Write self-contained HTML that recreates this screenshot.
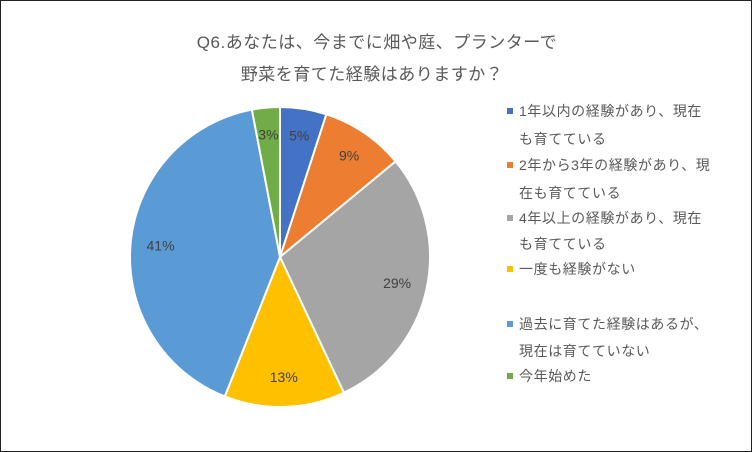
<!DOCTYPE html>
<html><head><meta charset="utf-8"><style>
body{margin:0;background:#fff}
#c{position:relative;width:752px;height:452px;box-sizing:border-box;border:1.5px solid #222;background:#fff;overflow:hidden;font-family:"Liberation Sans","Noto Sans CJK JP",sans-serif;color:#595959}
.t{position:absolute;left:0;width:752px;text-align:center;font-size:17px;letter-spacing:0.5px}
.lg{position:absolute;left:518px;font-size:14px;line-height:14px;letter-spacing:0.6px;white-space:nowrap}
.mk{position:absolute;left:506px;width:6px;height:6px}
</style></head><body>
<div id="c">
<div class="t" style="top:27px">Q6.あなたは、今までに畑や庭、プランターで</div>
<div class="t" style="top:59px;left:-5px">野菜を育てた経験はありますか？</div>
<svg id="pie" width="752" height="452" style="position:absolute;left:0;top:0"></svg>
<div id="legend"></div>
</div>
<script>
const categories=["1年以内の経験があり、現在も育てている","2年から3年の経験があり、現在も育てている","4年以上の経験があり、現在も育てている","一度も経験がない","過去に育てた経験はあるが、現在は育てていない","今年始めた"];
const values=[5,9,29,13,41,3];
const valueLabels=["5%","9%","29%","13%","41%","3%"];
const colors=["#4472c4","#ed7d31","#a5a5a5","#ffc000","#5b9bd5","#70ad47"];
const legendLines=[["1年以内の経験があり、現在","も育てている"],["2年から3年の経験があり、現","在も育てている"],["4年以上の経験があり、現在","も育てている"],["一度も経験がない"],["過去に育てた経験はあるが、","現在は育てていない"],["今年始めた"]];
const legendY=[[103,131],[157,185],[210,236],[261],[316,343],[368]];
const NS="http://www.w3.org/2000/svg";
const svg=document.getElementById('pie');
const cx=279,cy=256,r=150;
const total=values.reduce((a,b)=>a+b,0);
let acc=0;
function pt(a,rr){return [cx+rr*Math.sin(a),cy-rr*Math.cos(a)];}
values.forEach((v,i)=>{
  const a0=acc/total*2*Math.PI;acc+=v;const a1=acc/total*2*Math.PI;
  const p0=pt(a0,r),p1=pt(a1,r);
  const p=document.createElementNS(NS,'path');
  p.setAttribute('d',`M${cx},${cy}L${p0[0]},${p0[1]}A${r},${r} 0 ${a1-a0>Math.PI?1:0} 1 ${p1[0]},${p1[1]}Z`);
  p.setAttribute('fill',colors[i]);p.setAttribute('stroke','#fff');p.setAttribute('stroke-width','2');
  
  
  svg.appendChild(p);
  const am=(a0+a1)/2;const lp=pt(am,v<10?r*0.82:r*0.8);
  const t=document.createElementNS(NS,'text');
  t.setAttribute('x',lp[0]);t.setAttribute('y',lp[1]+5);t.setAttribute('text-anchor','middle');
  t.setAttribute('font-size','14');t.setAttribute('fill','#404040');
  t.setAttribute('font-family','Liberation Sans, sans-serif');
  t.textContent=valueLabels[i];
  
  
  svg.appendChild(t);
});
const lg=document.getElementById('legend');
categories.forEach((c,i)=>{
  const m=document.createElement('div');m.className='mk';m.style.background=colors[i];m.style.top=(legendY[i][0]+4)+'px';
  
  
  lg.appendChild(m);
  legendLines[i].forEach((s,j)=>{
    const d=document.createElement('div');d.className='lg';d.style.top=legendY[i][j]+'px';d.textContent=s;
    
    
    lg.appendChild(d);
  });
});
</script>
</body></html>
